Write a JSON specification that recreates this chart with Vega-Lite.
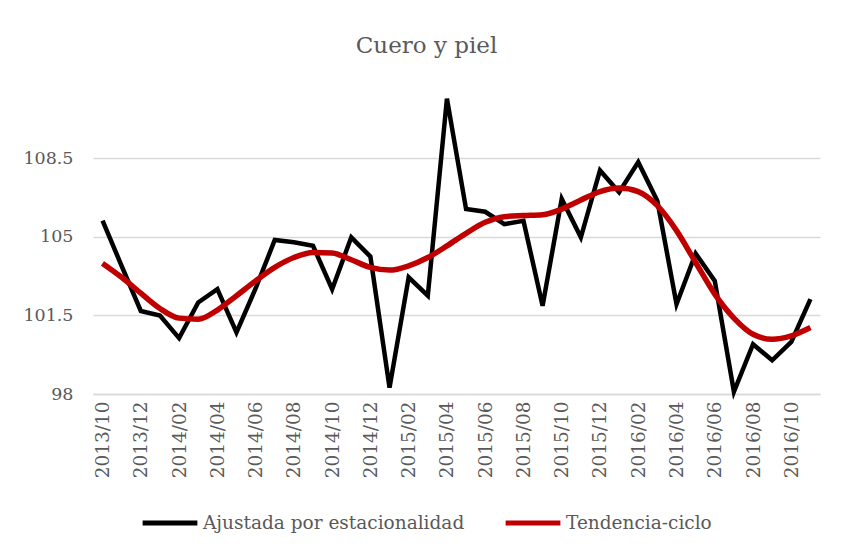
{
  "$schema": "https://vega.github.io/schema/vega-lite/v6.json",
  "width": 727,
  "height": 303,
  "autosize": {"type": "none"},
  "padding": {"left": 93, "top": 91, "right": 22, "bottom": 159},
  "background": "white",
  "title": {"text": "Cuero y piel", "font": "DejaVu Serif", "fontSize": 23, "fontWeight": "normal", "color": "#595959", "anchor": "middle", "dx": -30, "offset": 32},
  "data": {"values": [
    {"fecha": "2013/10", "ajustada": 105.72, "tendencia": 103.82},
    {"fecha": "2013/11", "ajustada": 103.7, "tendencia": 103.2},
    {"fecha": "2013/12", "ajustada": 101.7, "tendencia": 102.49},
    {"fecha": "2014/01", "ajustada": 101.5, "tendencia": 101.81},
    {"fecha": "2014/02", "ajustada": 100.49, "tendencia": 101.38},
    {"fecha": "2014/03", "ajustada": 102.08, "tendencia": 101.33},
    {"fecha": "2014/04", "ajustada": 102.67, "tendencia": 101.74},
    {"fecha": "2014/05", "ajustada": 100.74, "tendencia": 102.38},
    {"fecha": "2014/06", "ajustada": 102.7, "tendencia": 103.04},
    {"fecha": "2014/07", "ajustada": 104.86, "tendencia": 103.64},
    {"fecha": "2014/08", "ajustada": 104.76, "tendencia": 104.08},
    {"fecha": "2014/09", "ajustada": 104.6, "tendencia": 104.31},
    {"fecha": "2014/10", "ajustada": 102.67, "tendencia": 104.28},
    {"fecha": "2014/11", "ajustada": 104.98, "tendencia": 103.98},
    {"fecha": "2014/12", "ajustada": 104.12, "tendencia": 103.64},
    {"fecha": "2015/01", "ajustada": 98.28, "tendencia": 103.52},
    {"fecha": "2015/02", "ajustada": 103.2, "tendencia": 103.71},
    {"fecha": "2015/03", "ajustada": 102.38, "tendencia": 104.08},
    {"fecha": "2015/04", "ajustada": 111.16, "tendencia": 104.6},
    {"fecha": "2015/05", "ajustada": 106.24, "tendencia": 105.16},
    {"fecha": "2015/06", "ajustada": 106.12, "tendencia": 105.65},
    {"fecha": "2015/07", "ajustada": 105.57, "tendencia": 105.9},
    {"fecha": "2015/08", "ajustada": 105.72, "tendencia": 105.95},
    {"fecha": "2015/09", "ajustada": 101.93, "tendencia": 105.99},
    {"fecha": "2015/10", "ajustada": 106.69, "tendencia": 106.24},
    {"fecha": "2015/11", "ajustada": 104.98, "tendencia": 106.64},
    {"fecha": "2015/12", "ajustada": 107.96, "tendencia": 107.02},
    {"fecha": "2016/01", "ajustada": 106.99, "tendencia": 107.18},
    {"fecha": "2016/02", "ajustada": 108.33, "tendencia": 107.02},
    {"fecha": "2016/03", "ajustada": 106.6, "tendencia": 106.39},
    {"fecha": "2016/04", "ajustada": 102.0, "tendencia": 105.28},
    {"fecha": "2016/05", "ajustada": 104.26, "tendencia": 103.86},
    {"fecha": "2016/06", "ajustada": 103.04, "tendencia": 102.45},
    {"fecha": "2016/07", "ajustada": 98.1, "tendencia": 101.38},
    {"fecha": "2016/08", "ajustada": 100.22, "tendencia": 100.66},
    {"fecha": "2016/09", "ajustada": 99.5, "tendencia": 100.44},
    {"fecha": "2016/10", "ajustada": 100.32, "tendencia": 100.59},
    {"fecha": "2016/11", "ajustada": 102.23, "tendencia": 100.96}
  ]},
  "encoding": {
    "x": {
      "field": "fecha", "type": "ordinal", "sort": null,
      "scale": {"type": "point", "padding": 0.5},
      "axis": {
        "title": null, "labelAngle": -90, "grid": false, "ticks": false,
        "domain": true, "domainColor": "#D9D9D9", "domainWidth": 1.5,
        "labelFont": "DejaVu Serif", "labelFontSize": 18.5, "labelColor": "#595959", "labelPadding": 7,
        "values": ["2013/10","2013/12","2014/02","2014/04","2014/06","2014/08","2014/10","2014/12","2015/02","2015/04","2015/06","2015/08","2015/10","2015/12","2016/02","2016/04","2016/06","2016/08","2016/10"]
      }
    }
  },
  "layer": [
    {
      "mark": {"type": "line", "strokeWidth": 4.5},
      "encoding": {
        "y": {
          "field": "ajustada", "type": "quantitative",
          "scale": {"domain": [98, 111.5], "nice": false, "zero": false},
          "axis": {
            "title": null, "values": [98, 101.5, 105, 108.5], "labelExpr": "datum.value + ''",
            "grid": true, "gridColor": "#D9D9D9", "gridWidth": 1.5,
            "domain": false, "ticks": false, "labelPadding": 20,
            "labelFont": "DejaVu Serif", "labelFontSize": 17.5, "labelColor": "#595959"
          }
        },
        "color": {
          "datum": "Ajustada por estacionalidad", "type": "nominal",
          "scale": {"domain": ["Ajustada por estacionalidad", "Tendencia-ciclo"], "range": ["#000000", "#C00000"]},
          "legend": {
            "title": null, "orient": "none", "legendX": 47, "legendY": 402, "direction": "horizontal",
            "symbolType": "stroke", "symbolSize": 3000, "symbolStrokeWidth": 5,
            "labelFont": "DejaVu Serif", "labelFontSize": 18.5, "labelColor": "#595959",
            "labelOffset": 3, "columnPadding": 30, "labelLimit": 400
          }
        }
      }
    },
    {
      "mark": {"type": "line", "strokeWidth": 5.5, "interpolate": "monotone"},
      "encoding": {
        "y": {"field": "tendencia", "type": "quantitative"},
        "color": {"datum": "Tendencia-ciclo", "type": "nominal"}
      }
    }
  ],
  "config": {"view": {"stroke": null}}
}
